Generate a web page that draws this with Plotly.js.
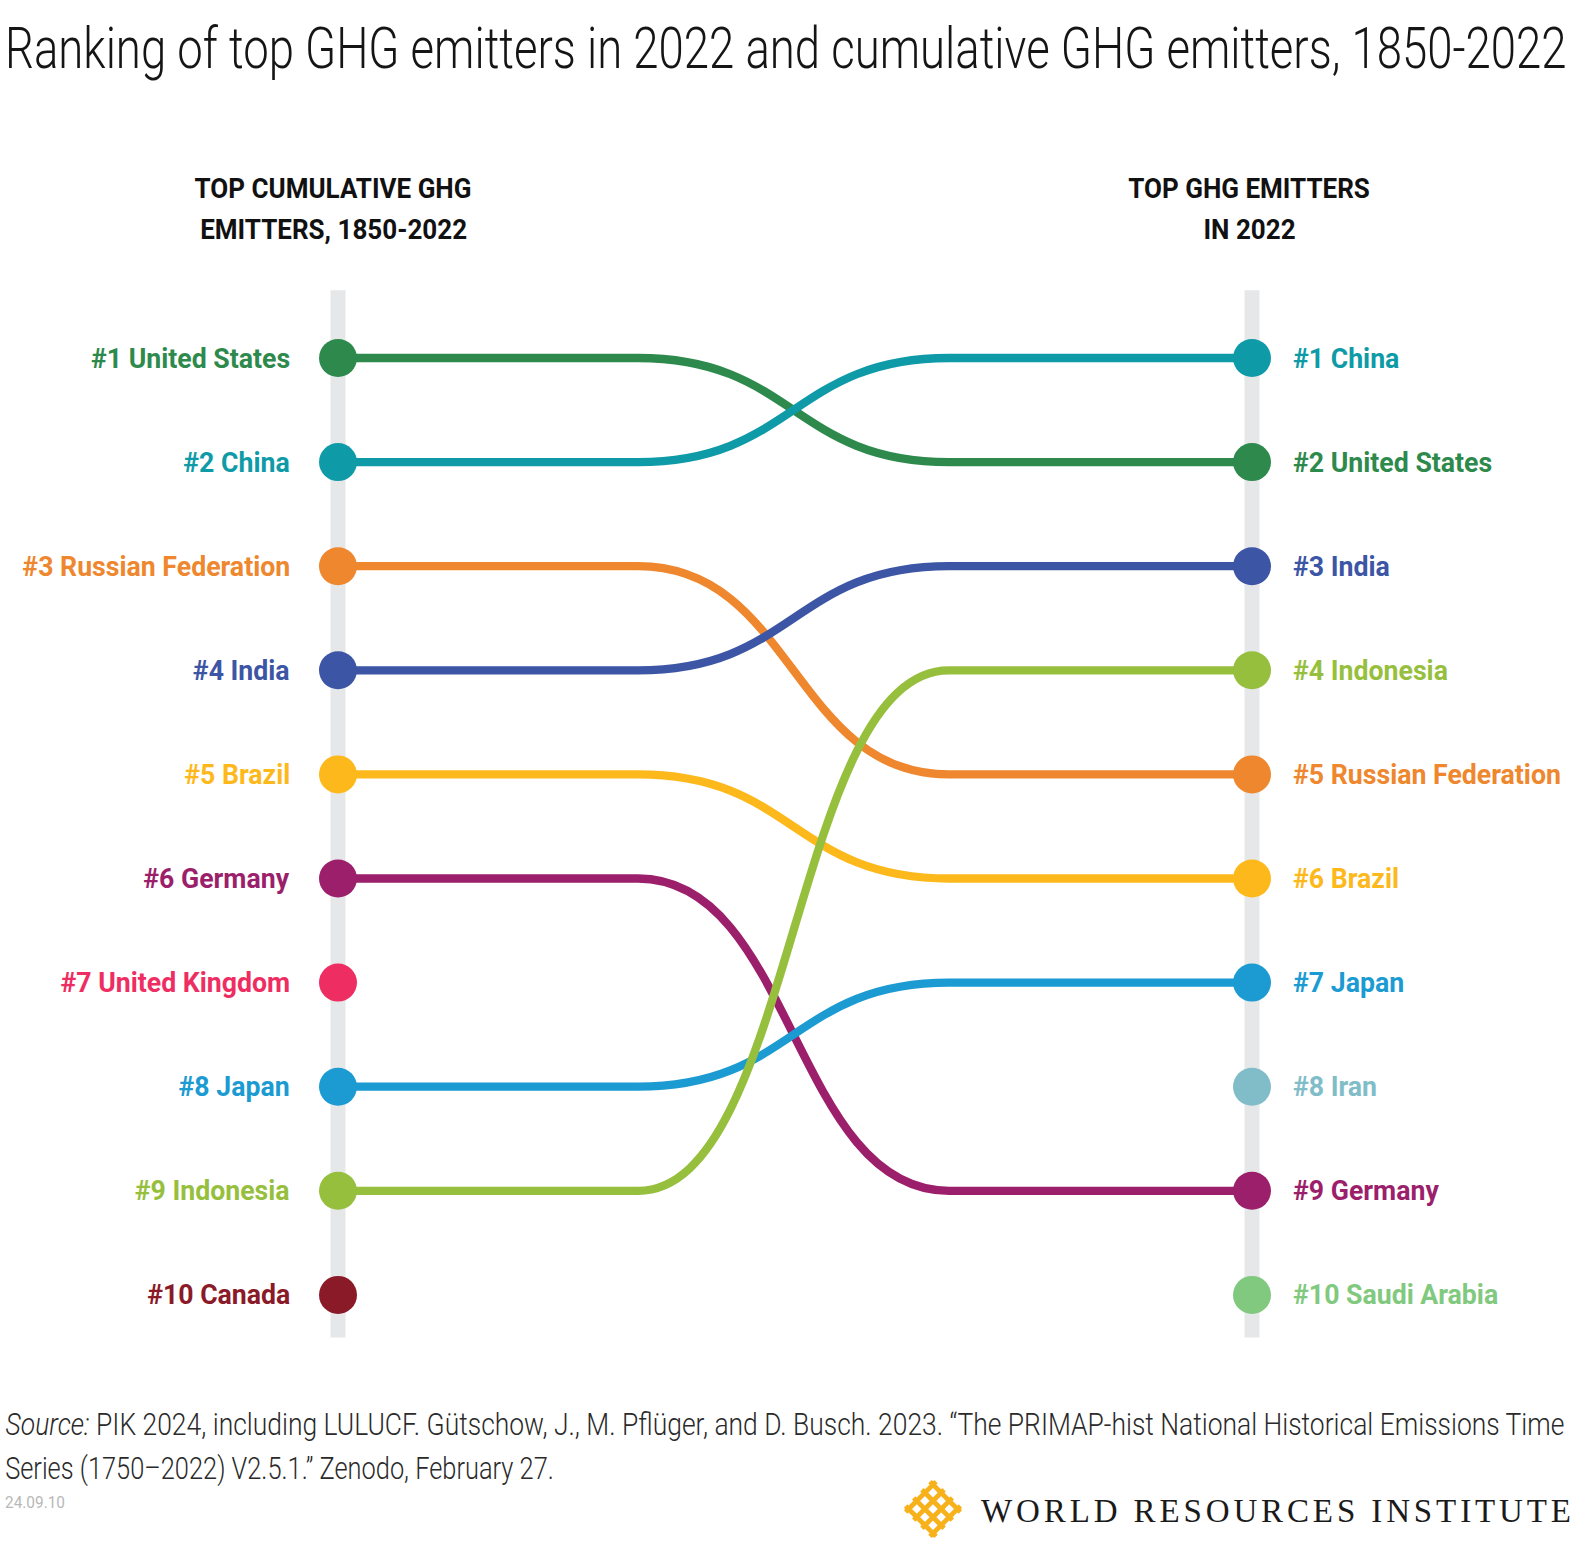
<!DOCTYPE html>
<html><head><meta charset="utf-8">
<script src="https://cdn.plot.ly/plotly-3.0.1.min.js"></script>
<style>
body{margin:0;background:#fff}
#chart{width:1575px;height:1557px}
</style></head>
<body><div id="chart"></div>
<script>
// ---------- data ----------
const cumulativeCountries = ["United States","China","Russian Federation","India","Brazil","Germany","United Kingdom","Japan","Indonesia","Canada"];
const cumulativeRanks = [1,2,3,4,5,6,7,8,9,10];
const emitters2022Countries = ["China","United States","India","Indonesia","Russian Federation","Brazil","Japan","Iran","Germany","Saudi Arabia"];
const emitters2022Ranks = [1,2,3,4,5,6,7,8,9,10];
const countryColors = {
  "United States":"#2d8a4c","China":"#0e9ba7","Russian Federation":"#ee872d","India":"#3d55a5",
  "Brazil":"#fdb91c","Germany":"#9b1f6b","United Kingdom":"#ee2e62","Japan":"#1c9bd3",
  "Indonesia":"#97bf3e","Canada":"#8b1a29","Iran":"#80bdc8","Saudi Arabia":"#80c97e"
};
const columnTitles = [["TOP CUMULATIVE GHG","EMITTERS, 1850-2022"],["TOP GHG EMITTERS","IN 2022"]];
const chartTitle = "Ranking of top GHG emitters in 2022 and cumulative GHG emitters, 1850-2022";
const sourceLines = [
  "<i>Source:</i> PIK 2024, including LULUCF. Gütschow, J., M. Pflüger, and D. Busch. 2023. “The PRIMAP-hist National Historical Emissions Time",
  "Series (1750–2022) V2.5.1.” Zenodo, February 27."
];
const dateStamp = "24.09.10";
const orgName = "WORLD RESOURCES INSTITUTE";

// ---------- layout constants (pixels) ----------
const W = 1575, H = 1557;
const colLeftPx = 338, colRightPx = 1252;
const rank1Px = 358, rankStepPx = 104.1;
const spanPx = colRightPx - colLeftPx;
const flatEnd = (638 - colLeftPx) / spanPx, flatStart = (949 - colLeftPx) / spanPx;
const SANS = "Roboto, 'Noto Sans', sans-serif";
const px2pX = p => p / W, px2pY = p => 1 - p / H;

const shapes = [];
// grey column rails
[0, 1].forEach(x => shapes.push({type:"line", xref:"x", yref:"y", x0:x, x1:x, y0:0.35, y1:10.41,
  line:{color:"#e6e7e8", width:15}, layer:"below"}));

// connectors between the two rankings
const mid = (flatEnd + flatStart) / 2;
cumulativeCountries.forEach((name, i) => {
  const j = emitters2022Countries.indexOf(name);
  if (j < 0) return;
  const r1 = cumulativeRanks[i], r2 = emitters2022Ranks[j];
  const path = `M 0,${r1} L ${flatEnd},${r1} C ${mid},${r1} ${mid},${r2} ${flatStart},${r2} L 1,${r2}`;
  shapes.push({type:"path", xref:"x", yref:"y", path, line:{color:countryColors[name], width:8.3}, layer:"below"});
});

// WRI logo (woven diamond), in pixel space converted to paper
(function(){
  const cx = 933, cy = 1509, h = 21.5;
  const pt = (u, v) => [cx + (u + v) / Math.SQRT2, cy + (u - v) / Math.SQRT2];
  const offs = [-0.8, -0.27, 0.27, 0.8];
  offs.forEach(o => {
    [[pt(-h, o*h), pt(h, o*h)], [pt(o*h, -h), pt(o*h, h)]].forEach(([a, b]) => {
      shapes.push({type:"line", xref:"paper", yref:"paper", x0:px2pX(a[0]), y0:px2pY(a[1]), x1:px2pX(b[0]), y1:px2pY(b[1]),
        line:{color:"#f7b11b", width:4.8}});
    });
  });
})();

// ---------- traces ----------
const traces = [
  {type:"scatter", mode:"markers", x:cumulativeRanks.map(() => 0), y:cumulativeRanks,
   marker:{size:38, color:cumulativeCountries.map(n => countryColors[n])}, hoverinfo:"skip", showlegend:false},
  {type:"scatter", mode:"markers", x:emitters2022Ranks.map(() => 1), y:emitters2022Ranks,
   marker:{size:38, color:emitters2022Countries.map(n => countryColors[n])}, hoverinfo:"skip", showlegend:false}
];

// ---------- annotations ----------
const annotations = [];
const squeezeSpec = []; // [annotationIndex, group, origin]
cumulativeCountries.forEach((n, i) => { squeezeSpec.push([annotations.length, "label", "right"]);
  annotations.push({x:0, y:cumulativeRanks[i], xref:"x", yref:"y",
  text:`#${cumulativeRanks[i]} ${n}`, showarrow:false, xanchor:"right", yanchor:"middle", xshift:-46,
  font:{family:SANS, size:28, weight:700, color:countryColors[n]}}); });
emitters2022Countries.forEach((n, i) => { squeezeSpec.push([annotations.length, "label", "left"]);
  annotations.push({x:1, y:emitters2022Ranks[i], xref:"x", yref:"y",
  text:`#${emitters2022Ranks[i]} ${n}`, showarrow:false, xanchor:"left", yanchor:"middle", xshift:39,
  font:{family:SANS, size:28, weight:700, color:countryColors[n]}}); });
const headerY = [188, 230];
columnTitles.forEach((lines, c) => lines.forEach((t, k) => { squeezeSpec.push([annotations.length, "header", "center"]);
  annotations.push({x:c, y:px2pY(headerY[k]), xref:"x", yref:"paper",
  text:t, showarrow:false, xanchor:"center", yanchor:"middle", xshift: c === 0 ? -5 : -3,
  font:{family:SANS, size:28, weight:700, color:"#111"}}); }));
const sourceY = [1424, 1468];
sourceLines.forEach((t, k) => { squeezeSpec.push([annotations.length, k === 0 ? "source" : "source2", "left"]);
  annotations.push({x:px2pX(3), y:px2pY(sourceY[k]), xref:"paper", yref:"paper",
  text:t, showarrow:false, xanchor:"left", yanchor:"middle", font:{family:SANS, size:31, weight:300, color:"#2a2a2a"}}); });
squeezeSpec.push([annotations.length, "date", "left"]);
annotations.push({x:px2pX(3), y:px2pY(1502), xref:"paper", yref:"paper", text:dateStamp, showarrow:false,
  xanchor:"left", yanchor:"middle", font:{family:SANS, size:16, color:"#b8b8b8"}});
const wriIndex = annotations.length;
annotations.push({x:px2pX(981), y:px2pY(1511), xref:"paper", yref:"paper", text:orgName, showarrow:false,
  xanchor:"left", yanchor:"middle", font:{family:"'Liberation Serif', 'DejaVu Serif', serif", size:33, color:"#1a1a1a"}});

const layout = {
  width:W, height:H, margin:{l:0, r:0, t:0, b:0}, paper_bgcolor:"#fff", plot_bgcolor:"#fff",
  title:{text:chartTitle, x:px2pX(5), xanchor:"left", xref:"paper", y:px2pY(48), yanchor:"middle", yref:"container",
    font:{family:SANS, size:58, weight:300, color:"#151515"}},
  xaxis:{range:[-colLeftPx / spanPx, (W - colLeftPx) / spanPx], visible:false, fixedrange:true},
  yaxis:{range:[1 + (H - rank1Px) / rankStepPx, 1 - rank1Px / rankStepPx], visible:false, fixedrange:true},
  shapes, annotations, showlegend:false
};

// horizontal condensing of text (the reference uses a condensed typeface)
const SVGNS = "http://www.w3.org/2000/svg";
function squeeze(el, f, origin){
  const bb = el.getBBox();
  const ox = origin === "left" ? bb.x : origin === "right" ? bb.x + bb.width : bb.x + bb.width / 2;
  const g = document.createElementNS(SVGNS, "g");
  el.parentNode.insertBefore(g, el); g.appendChild(el);
  g.setAttribute("transform", `matrix(${f},0,0,1,${ox * (1 - f)},0)`);
}
const annText = (gd, i) => gd.querySelector(`g.annotation[data-index="${i}"] text.annotation-text`);

Plotly.newPlot("chart", traces, layout, {displayModeBar:false, staticPlot:true}).then(gd => {
  // target widths (px) measured on the reference for one text of each group
  const refs = {label:[2, 268], header:[20, 277], source:[24, 1560], source2:[25, 549], date:[26, 60]};
  const factors = {};
  Object.keys(refs).forEach(k => { const el = annText(gd, refs[k][0]); factors[k] = refs[k][1] / el.getBBox().width; });
  squeezeSpec.forEach(([i, grp, origin]) => { const el = annText(gd, i); if (el) squeeze(el, factors[grp], origin); });
  const t = gd.querySelector("text.gtitle");
  if (t) squeeze(t, 1562 / t.getBBox().width, "left");
  // letter-spaced organisation name, left edge at 981, width 590
  const w = annText(gd, wriIndex);
  if (w) {
    const w0 = w.getBBox().width;
    w.setAttribute("letter-spacing", ((590 - w0) / (orgName.length - 1)).toFixed(2));
    const r = w.getBoundingClientRect();
    const g = document.createElementNS(SVGNS, "g");
    w.parentNode.insertBefore(g, w); g.appendChild(w);
    g.setAttribute("transform", `translate(${981 - r.left},0)`);
  }
});
</script>
</body></html>
